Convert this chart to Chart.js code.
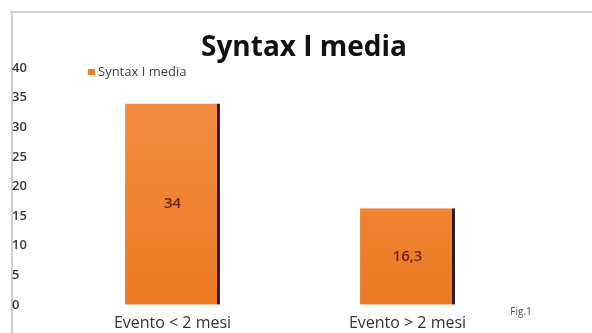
<!DOCTYPE html>
<html>
<head>
<meta charset="utf-8">
<script src="https://cdn.jsdelivr.net/npm/chart.js@4/dist/chart.umd.min.js"></script>
<style>
  html, body { margin: 0; padding: 0; background: #ffffff; }
  #wrap { position: relative; width: 592px; height: 333px; }
</style>
</head>
<body>
<div id="wrap"><canvas id="chart" width="592" height="333"></canvas></div>
<script>
// dati del grafico
const categorie = ["Evento < 2 mesi", "Evento > 2 mesi"];
const valori = [34, 16.3];
const etichetteValori = ["34", "16,3"];
const nomeSerie = "Syntax I media";
const titolo = "Syntax I media";
const tickY = [0, 5, 10, 15, 20, 25, 30, 35, 40];

const FONT = "'Open Sans', 'Liberation Sans', sans-serif";

// cornice grigia in alto e a sinistra
const cornice = {
  id: "cornice",
  beforeDraw(chart) {
    const ctx = chart.ctx;
    ctx.save();
    ctx.strokeStyle = "#c9d0d6";
    ctx.lineWidth = 2;
    ctx.beginPath();
    ctx.moveTo(10, 12);
    ctx.lineTo(592, 12);
    ctx.moveTo(12, 12);
    ctx.lineTo(12, 333);
    ctx.stroke();
    ctx.restore();
  }
};

// titolo, legenda piccola, valori dentro le barre e "Fig.1"
const extra = {
  id: "extra",
  afterDatasetsDraw(chart) {
    const ctx = chart.ctx;
    ctx.save();
    ctx.textBaseline = "middle";
    ctx.textAlign = "center";
    ctx.fillStyle = "#111111";
    ctx.font = "bold 28px " + FONT;
    ctx.fillText(titolo, 304, 48);

    // legenda
    ctx.fillStyle = "#f0802c";
    ctx.fillRect(88, 69, 7, 6);
    ctx.fillStyle = "#404040";
    ctx.font = "13px " + FONT;
    ctx.textAlign = "left";
    ctx.fillText(chart.data.datasets[0].label, 98, 72);

    // valori
    const meta = chart.getDatasetMeta(0);
    ctx.font = "600 15px " + FONT;
    ctx.fillStyle = "#6b2412";
    ctx.textAlign = "center";
    meta.data.forEach((bar, i) => {
      const mid = (bar.y + bar.base) / 2;
      ctx.fillText(etichetteValori[i], bar.x, mid);
    });

    ctx.font = "10px " + FONT;
    ctx.fillStyle = "#505050";
    ctx.fillText("Fig.1", 521, 312);
    ctx.restore();
  }
};

function sfumatura(context) {
  const area = context.chart.chartArea;
  if (!area) return "#f0802c";
  const g = context.chart.ctx.createLinearGradient(0, area.top, 0, area.bottom);
  g.addColorStop(0, "#f38f45");
  g.addColorStop(1, "#eb7a22");
  return g;
}

new Chart(document.getElementById("chart"), {
  type: "bar",
  data: {
    labels: categorie,
    datasets: [{
      label: nomeSerie,
      data: valori,
      backgroundColor: sfumatura,
      borderColor: "#2b1a10",
      borderWidth: { top: 0, left: 0, bottom: 0, right: 3 },
      borderSkipped: false,
      categoryPercentage: 1,
      barPercentage: 0.404
    }]
  },
  options: {
    responsive: false,
    animation: false,
    layout: { padding: { left: 12, right: 67, top: 68, bottom: -9 } },
    plugins: {
      legend: { display: false },
      tooltip: { enabled: false },
      title: { display: false }
    },
    scales: {
      x: {
        grid: { display: false, drawTicks: false },
        border: { display: false },
        ticks: {
          color: "#333333",
          padding: 9,
          font: { family: FONT, size: 16 }
        }
      },
      y: {
        min: 0,
        max: 40,
        afterBuildTicks(scale) {
          scale.ticks = tickY.map(v => ({ value: v }));
        },
        afterFit(scale) { scale.width = 43; },
        grid: { display: false, drawTicks: false },
        border: { display: false },
        ticks: {
          crossAlign: "far",
          color: "#383838",
          font: { family: FONT, size: 13, weight: "600" }
        }
      }
    }
  },
  plugins: [cornice, extra]
});
</script>
</body>
</html>
